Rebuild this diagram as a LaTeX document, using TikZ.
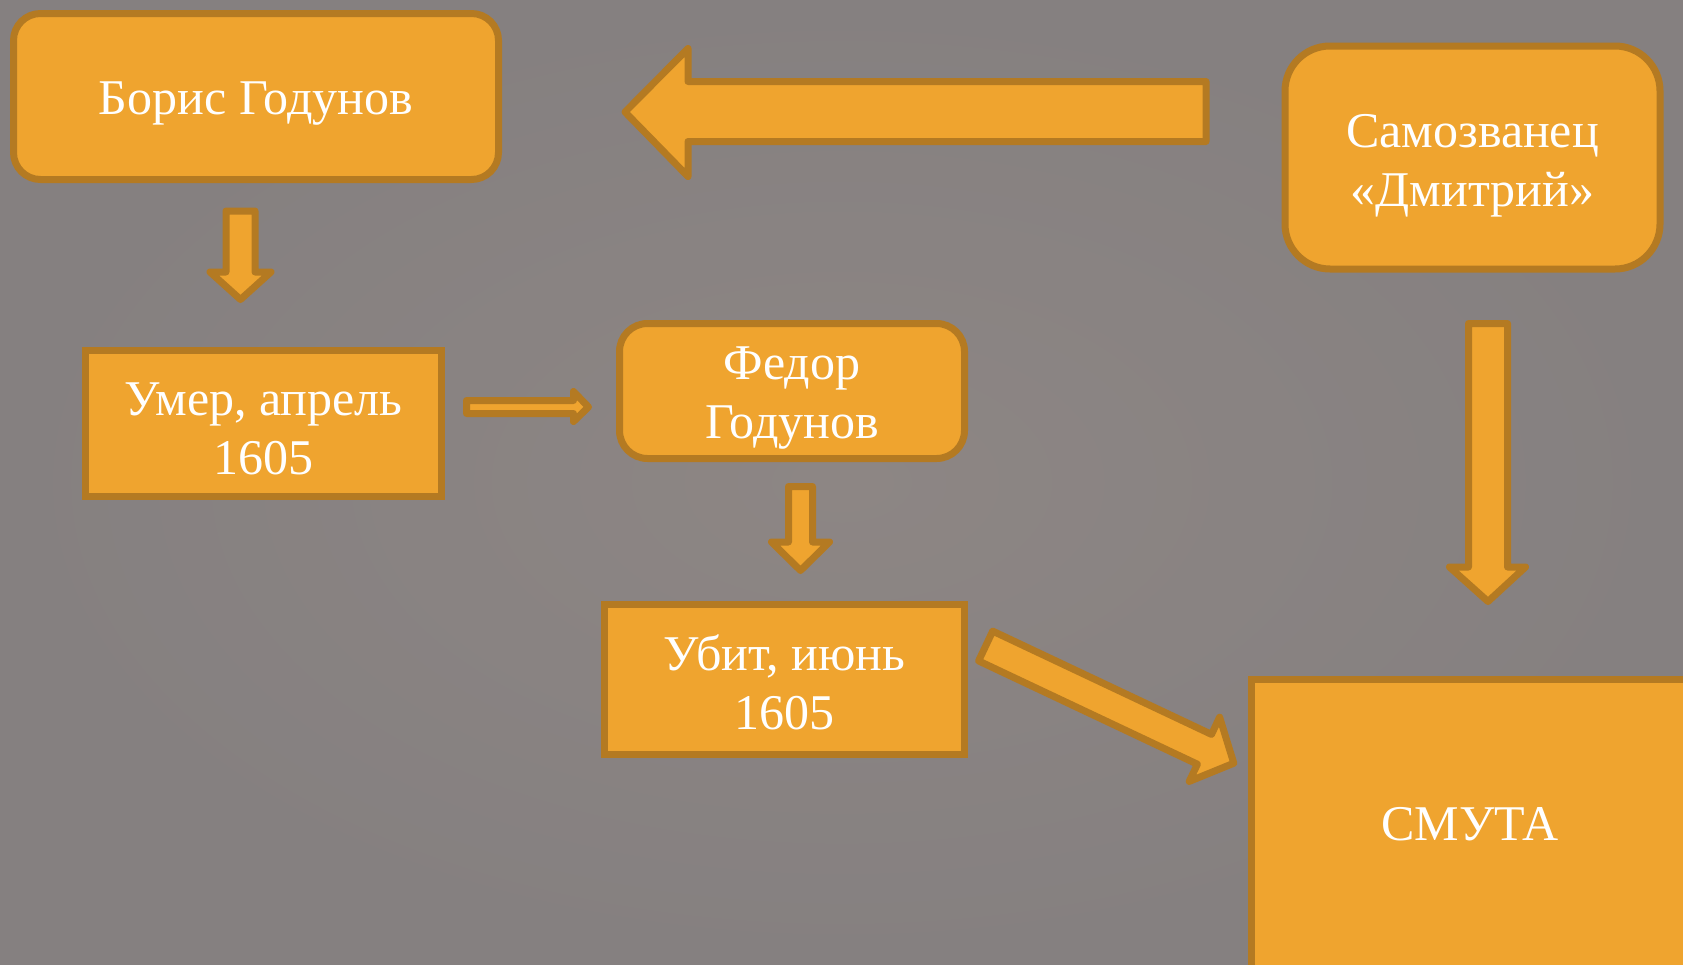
\documentclass[tikz,border=0pt]{standalone}
\usepackage{fontspec}
\setmainfont{Liberation Serif}
\definecolor{bgin}{HTML}{8D8684}
\definecolor{bgout}{HTML}{858080}
\definecolor{ofill}{HTML}{EFA42F}
\definecolor{oline}{HTML}{B47A22}
\begin{document}
\begin{tikzpicture}[x=1pt,y=-1pt,
  box/.style={draw=oline, fill=ofill, line width=7pt, inner sep=0pt},
  rbox/.style={box, rounded corners=#1},
  lbl/.style={text=white, font=\fontsize{50}{59}\selectfont, align=center, inner sep=0pt},
  blockarrow/.style={draw=oline, fill=ofill, line width=7pt, line join=round}]
\useasboundingbox (0,0) rectangle (1683,964);
\clip (0,0) rectangle (1683,964);
\shade[inner color=bgin, outer color=bgout] (0,0) rectangle (1683,964);

% boxes
\node[rbox=27pt, minimum width=485pt, minimum height=166pt] (boris) at (256,96.5) {};
\node[rbox=45pt, minimum width=375pt, minimum height=223pt] (samo) at (1472.5,157.5) {};
\node[box, minimum width=356pt, minimum height=146pt] (umer) at (263.5,423.5) {};
\node[rbox=28pt, minimum width=345pt, minimum height=135pt] (fedor) at (792,391) {};
\node[box, minimum width=360pt, minimum height=150pt] (ubit) at (784.5,679.5) {};
\node[box, minimum width=437pt, minimum height=289pt] (smuta) at (1470,824) {};

% labels
\node[lbl] (borist) at ([yshift=-7pt]boris.center) {Борис Годунов};
\node[lbl] (samot) at ([yshift=-8pt]samo.center) {Самозванец\\«Дмитрий»};
\node[lbl] (umert) at ([yshift=-5pt]umer.center) {Умер, апрель\\1605};
\node[lbl] (fedort) at ([yshift=-7pt]fedor.center) {Федор\\Годунов};
\node[lbl] (ubitt) at ([yshift=-3pt]ubit.center) {Убит, июнь\\1605};
\node[lbl] (smutat) at (smuta.center) {СМУТА};

% block arrows
\draw[blockarrow] (226,211) -- (255,211) -- (255,272) -- (271,272) -- (240.5,299.5)
  -- (210,272) -- (226,272) -- cycle;
\draw[blockarrow] (1206,81.5) -- (688,81.5) -- (688,48.5) -- (625,112) -- (688,176.5)
  -- (688,141.5) -- (1206,141.5) -- cycle;
\draw[blockarrow] (466.5,400.5) -- (573.5,400.5) -- (573.5,391.5) -- (588.5,407)
  -- (573.5,421.5) -- (573.5,413.5) -- (466.5,413.5) -- cycle;
\draw[blockarrow] (788.5,486.5) -- (812.5,486.5) -- (812.5,542) -- (829.5,542)
  -- (800.5,570.5) -- (771.5,542) -- (788.5,542) -- cycle;
\draw[blockarrow] (1468.5,323.5) -- (1507.5,323.5) -- (1507.5,567) -- (1525.5,567)
  -- (1488,601.5) -- (1449.5,567) -- (1468.5,567) -- cycle;
\draw[blockarrow] (992.7,631.1) -- (1211.5,734.4) -- (1219.6,717.2) -- (1233.8,763.2)
  -- (1189.2,781.4) -- (1197.4,764.2) -- (978.6,660.9) -- cycle;
\end{tikzpicture}
\end{document}
